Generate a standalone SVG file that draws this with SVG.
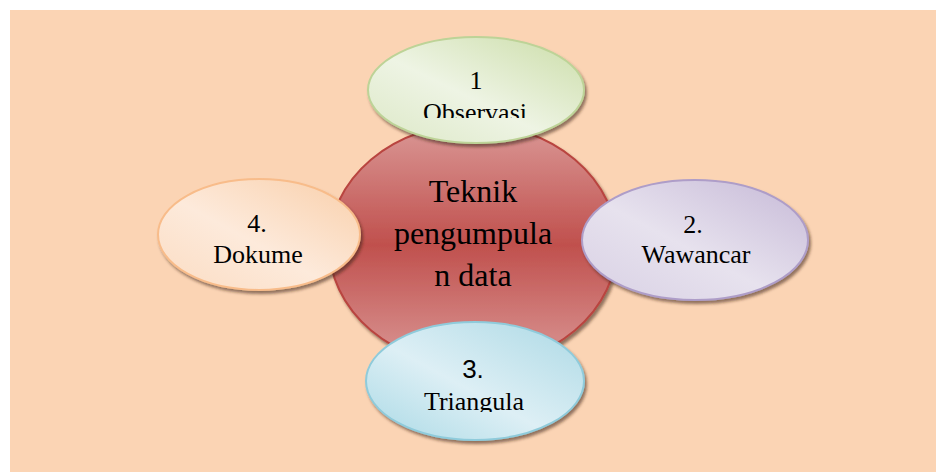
<svg xmlns="http://www.w3.org/2000/svg" width="936" height="472" viewBox="0 0 936 472">
<style>
text{font-family:"Liberation Serif","Times New Roman",serif;fill:#000;text-anchor:middle}
.s{font-size:26px}
.c{font-size:32px}
.sans{font-family:"Liberation Sans",Arial,sans-serif}
</style>
<defs>
<filter id="sh" x="-10%" y="-10%" width="125%" height="130%">
<feDropShadow dx="2" dy="3" stdDeviation="1.5" flood-color="#3a1a10" flood-opacity="0.55"/>
</filter>
<linearGradient id="gRed" x1="0" y1="0" x2="0" y2="1">
<stop offset="0" stop-color="#DA9896"/>
<stop offset="0.5" stop-color="#C0504D"/>
<stop offset="1" stop-color="#DA9896"/>
</linearGradient>
<linearGradient id="gGreen" x1="0" y1="1" x2="1" y2="0">
<stop offset="0" stop-color="#DCE8C6"/>
<stop offset="0.45" stop-color="#EEF4E4"/>
<stop offset="1" stop-color="#CBDDA8"/>
</linearGradient>
<linearGradient id="gOrange" x1="0" y1="1" x2="1" y2="0">
<stop offset="0" stop-color="#FBDCC2"/>
<stop offset="0.45" stop-color="#FDEADB"/>
<stop offset="1" stop-color="#F9CFAA"/>
</linearGradient>
<linearGradient id="gPurple" x1="0" y1="1" x2="1" y2="0">
<stop offset="0" stop-color="#D8D0E4"/>
<stop offset="0.45" stop-color="#E7E2EE"/>
<stop offset="1" stop-color="#C6B9D7"/>
</linearGradient>
<linearGradient id="gBlue" x1="0" y1="1" x2="1" y2="0">
<stop offset="0" stop-color="#A9D9E5"/>
<stop offset="0.45" stop-color="#DDEFF5"/>
<stop offset="1" stop-color="#ACD9E5"/>
</linearGradient>
<clipPath id="clipObs"><rect x="368" y="40" width="216" height="78"/></clipPath>
<clipPath id="clipTri"><rect x="366" y="322" width="217" height="90"/></clipPath>
</defs>
<rect x="10" y="10" width="926" height="462" fill="#FBD4B4"/>
<g id="connectors"></g>
<g id="center">
<ellipse cx="473" cy="245" rx="144" ry="121" fill="url(#gRed)" stroke="#B9443F" stroke-width="2" filter="url(#sh)"/>
<text class="c" x="473" y="201.5">Teknik</text>
<text class="c" x="473" y="243.5">pengumpula</text>
<text class="c" x="473" y="286">n data</text>
</g>
<g id="node1">
<ellipse cx="476" cy="90" rx="108" ry="53" fill="url(#gGreen)" stroke="#BDD397" stroke-width="2" filter="url(#sh)"/>
<g clip-path="url(#clipObs)">
<text class="s" x="476" y="89">1</text>
<text class="s" x="475" y="121">Observasi</text>
</g>
</g>
<g id="node4">
<ellipse cx="259" cy="234.5" rx="101" ry="55.5" fill="url(#gOrange)" stroke="#F8BC8A" stroke-width="2" filter="url(#sh)"/>
<text class="s" x="257" y="231.5">4.</text>
<text class="s" x="258" y="262.5">Dokume</text>
</g>
<g id="node2">
<ellipse cx="695" cy="240" rx="113" ry="60" fill="url(#gPurple)" stroke="#AE9DC8" stroke-width="2" filter="url(#sh)"/>
<text class="s" x="693" y="233">2.</text>
<text class="s" x="696" y="263">Wawancar</text>
</g>
<g id="node3">
<ellipse cx="475" cy="381" rx="109" ry="59" fill="url(#gBlue)" stroke="#8FCBDB" stroke-width="2" filter="url(#sh)"/>
<g clip-path="url(#clipTri)">
<text class="s sans" x="473" y="378">3.</text>
<text class="s" x="474" y="410">Triangula</text>
</g>
</g>
</svg>
